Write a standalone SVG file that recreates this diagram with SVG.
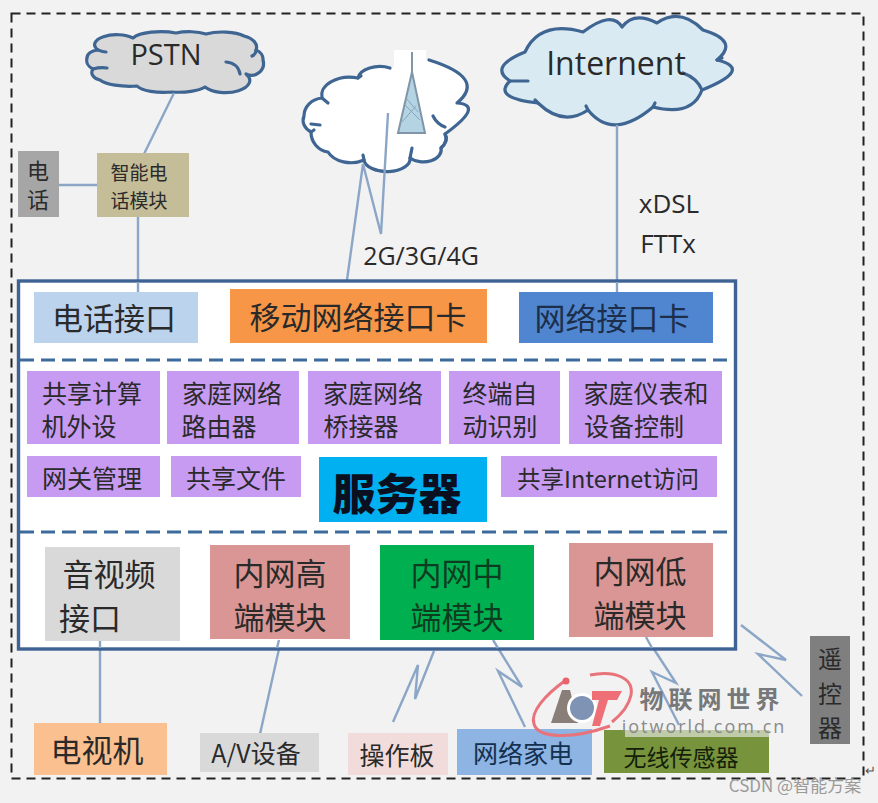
<svg xmlns="http://www.w3.org/2000/svg" width="878" height="803" viewBox="0 0 878 803">
<style>
text{font-family:"Noto Sans CJK SC","Noto Sans",sans-serif;fill:#2a2a2a;text-anchor:middle}
.lat{font-family:"Open Sans","Noto Sans",sans-serif}
.c{stroke:#3f6592;stroke-width:3.2;stroke-linejoin:round;stroke-linecap:round}
.l{fill:none;stroke:#8ba6c6;stroke-width:2.4;stroke-linejoin:miter}
.d{fill:none;stroke:#3d6a9c;stroke-width:3;stroke-dasharray:14 7}
.p{fill:#c79bf2}
.t1{font-size:25px}
.t2{font-size:31px}
</style>
<rect width="878" height="803" fill="#f2f2f2"/>
<rect x="11.500" y="13.500" width="852" height="765" fill="none" stroke="#222" stroke-width="2" stroke-dasharray="9 6"/>
<g id="cloud-pstn">
<path class="c" fill="#d9d9d9" d="M98,50A22,10 0 0 1 133,38A30,10 0 0 1 176,33A24,8 0 0 1 206,34A26,9 0 0 1 244,36A20,12 0 0 1 256,50A12,10 0 0 1 263,60A12,12 0 0 1 246,74A22,11 0 0 1 205,87A30,10 0 0 1 172,92A28,9 0 0 1 137,86A32,10 0 0 1 100,80A12,8 0 0 1 93,69A12,10 0 0 1 87,58A12,8 0 0 1 98,50Z"/>
<path class="c" fill="none" d="M226,62Q238,63 240,74M98,50Q103,52 106,52M93,69Q100,67 107,68M256,50Q256,54 252,56"/>
<text class="lat" x="166" y="65" font-size="29">PSTN</text>
</g>
<g id="cloud-mobile">
<path class="c" fill="#fff" d="M390,68A22,13 0 0 0 358,78A28,18 0 0 0 322,98A20,18 0 0 0 304,116A18,14 0 0 0 311,132A20,20 0 0 0 328,152A25,18 0 0 0 364,160A22,12 0 0 0 410,158A18,12 0 0 0 441,148A18,14 0 0 0 445,134Q485,105 457,103Q487,78 429,60"/>
<path class="c" fill="none" d="M322,98L328,103M311,124L320,125M311,132L314,130M358,78L361,76M441,148Q449,140 445,134M433,116Q437,124 445,127M364,160L363,155M410,158L412,148"/>
<rect x="394" y="50" width="32" height="84" fill="#fff"/>
<path d="M412,52V72L398,133H425L412,72Z" fill="#b4d3e3" stroke="#8095a8" stroke-width="2"/>
<path d="M405,105L420,120M402,122L416,106M406,98L418,112" fill="none" stroke="#8aa5bb" stroke-width="1"/>
</g>
<g id="cloud-internet">
<path class="c" fill="#daeaf3" d="M525,52Q540,20 583,32Q612,10 622,27Q634,11 657,23Q680,7 703,30Q740,41 717,60Q754,69 702,90Q692,117 653,107Q613,141 588,110Q563,127 538,103Q492,98 510,81Q488,67 525,52Z"/>
<path class="c" fill="none" d="M510,81H528M683,73Q697,78 702,90M717,60L722,58M538,103L535,100M653,107L655,103M588,110L586,106"/>
<text class="lat" x="616" y="75" font-size="32">Internent</text>
</g>
<g id="connectors">
<path class="l" d="M174,93L144,154M59,185H98M138,217V292"/>
<path class="l" d="M347,280L363,164L381,234L388,113"/>
<path class="l" d="M617,125V292"/>
<path class="l" d="M100,639V724M281,640L260,734"/>
<path class="l" d="M434,651L415,699L418,665L393,722"/>
<path class="l" d="M493,640L522,687L498,671L525,727"/>
<path class="l" d="M646,637L676,683L652,672L679,725"/>
<path class="l" d="M741,625L786,660L758,654L802,696"/>
</g>
<g id="labels"><text class="lat" x="669" y="213" font-size="26">xDSL</text><text class="lat" x="668" y="253" font-size="26">FTTx</text><text class="lat" x="421" y="265" font-size="25">2G/3G/4G</text></g>
<g id="phone"><rect x="18" y="151" width="41" height="66" fill="#a6a6a6"/><text x="38" y="179" font-size="22">电</text><text x="38" y="208" font-size="22">话</text></g>
<g id="phone-module"><rect x="97" y="153" width="92" height="64" fill="#c4bd97"/><text x="139" y="180" font-size="19">智能电</text><text x="139" y="208" font-size="19">话模块</text></g>
<g id="server">
<rect x="18.500" y="281" width="717" height="368" fill="#fff" stroke="#3f6295" stroke-width="3.400"/>
<path class="d" d="M20,360H735M20,532H735"/>
</g>
<path class="l" d="M138,282V292M617,282V292M100,641V648M279,640L277,648M493,640L498,648M646,637L652,648"/>
<g id="if-phone"><rect x="34" y="292" width="164" height="51" fill="#bcd3ee"/><text class="t2" x="114" y="330">电话接口</text></g>
<g id="if-mobile"><rect x="230" y="289" width="257" height="54" fill="#f79646"/><text class="t2" x="358" y="329">移动网络接口卡</text></g>
<g id="if-net"><rect x="519" y="292" width="194" height="51" fill="#4f86cf"/><text class="t2" x="612" y="330" style="fill:#1c2e4a">网络接口卡</text></g>
<g id="f1"><rect class="p" x="27" y="371" width="133" height="73"/><text class="t1" x="92" y="403">共享计算</text><text class="t1" x="79" y="436">机外设</text></g>
<g id="f2"><rect class="p" x="167" y="371" width="132" height="73"/><text class="t1" x="232" y="403">家庭网络</text><text class="t1" x="219" y="436">路由器</text></g>
<g id="f3"><rect class="p" x="308" y="371" width="133" height="73"/><text class="t1" x="373" y="403">家庭网络</text><text class="t1" x="361" y="436">桥接器</text></g>
<g id="f4"><rect class="p" x="449" y="371" width="111" height="73"/><text class="t1" x="500" y="403">终端自</text><text class="t1" x="500" y="436">动识别</text></g>
<g id="f5"><rect class="p" x="569" y="371" width="153" height="73"/><text class="t1" x="646" y="403">家庭仪表和</text><text class="t1" x="634" y="436">设备控制</text></g>
<g id="f6"><rect class="p" x="27" y="456" width="133" height="41"/><text class="t1" x="92" y="488">网关管理</text></g>
<g id="f7"><rect class="p" x="171" y="456" width="130" height="41"/><text class="t1" x="236" y="488">共享文件</text></g>
<g id="f8"><rect x="319" y="457" width="168" height="65" fill="#00b0f0"/><text x="397" y="510" font-size="43" font-weight="900" style="fill:#0b1020">服务器</text></g>
<g id="f9"><rect class="p" x="501" y="456" width="216" height="41"/><text x="608" y="488" font-size="23.500">共享Internet访问</text></g>
<g id="m1"><rect x="45" y="547" width="135" height="94" fill="#d9d9d9"/><text class="t2" x="109" y="586">音视频</text><text class="t2" x="90" y="630">接口</text></g>
<g id="m2"><rect x="210" y="545" width="140" height="94" fill="#d99694"/><text class="t2" x="280" y="585">内网高</text><text class="t2" x="280" y="629">端模块</text></g>
<g id="m3"><rect x="380" y="545" width="154" height="95" fill="#00b050"/><text class="t2" x="457" y="585" style="fill:#0d3d20">内网中</text><text class="t2" x="457" y="629" style="fill:#0d3d20">端模块</text></g>
<g id="m4"><rect x="569" y="543" width="144" height="94" fill="#d99694"/><text class="t2" x="640" y="583">内网低</text><text class="t2" x="640" y="627">端模块</text></g>
<g id="tv"><rect x="34" y="723" width="133" height="52" fill="#fac090"/><text x="97" y="762" font-size="31">电视机</text></g>
<g id="av"><rect x="200" y="733" width="119" height="39" fill="#d9d9d9"/><text x="256" y="763" font-size="25">A/V设备</text></g>
<g id="panel"><rect x="348" y="733" width="100" height="42" fill="#f2dcdb"/><text x="397" y="765" font-size="25">操作板</text></g>
<g id="appliance"><rect x="457" y="729" width="135" height="46" fill="#8db4e2"/><text x="523" y="763" font-size="25" style="fill:#14304f">网络家电</text></g>
<g id="sensor"><rect x="604" y="730" width="165" height="43" fill="#77933c"/><text x="681" y="766" font-size="23" style="fill:#14200a">无线传感器</text></g>
<g id="remote"><rect x="810" y="636" width="40" height="108" fill="#7f7f7f"/><text x="830" y="668" font-size="24">遥</text><text x="830" y="703" font-size="24">控</text><text x="830" y="737" font-size="24">器</text></g>
<g id="watermark">
<rect x="625" y="728" width="145" height="9" fill="#f2f2f2" opacity="0.6"/>
<path d="M566,680C545,695 530,712 534,724C538,738 570,740 610,726" fill="none" stroke="#e8737a" stroke-width="3"/>
<path d="M590,675C615,670 634,678 631,695C629,705 622,714 612,722" fill="none" stroke="#e8737a" stroke-width="3"/>
<path d="M562,690H570L578,723H551Z" fill="#8a7f78"/>
<circle cx="566" cy="681" r="3.500" fill="#e8636b"/>
<circle cx="582" cy="708" r="15" fill="#fff"/>
<circle cx="582" cy="708" r="12" fill="#7f93b5"/>
<path d="M592,691H622L617,700H608L600,726H592L599,700H592Z" fill="#ee6f76"/>
<text x="712" y="708" font-size="24" font-weight="700" style="fill:#77787a;letter-spacing:5px">物联网世界</text>
<text class="lat" x="704" y="733" font-size="18" style="fill:#8a8a8a;letter-spacing:2px">iotworld.com.cn</text>
<text x="795" y="792" font-size="17" style="fill:#9a9a9a">CSDN @智能方案</text>
<text x="870" y="775" font-size="13" style="fill:#555">↵</text>
</g>
</svg>
